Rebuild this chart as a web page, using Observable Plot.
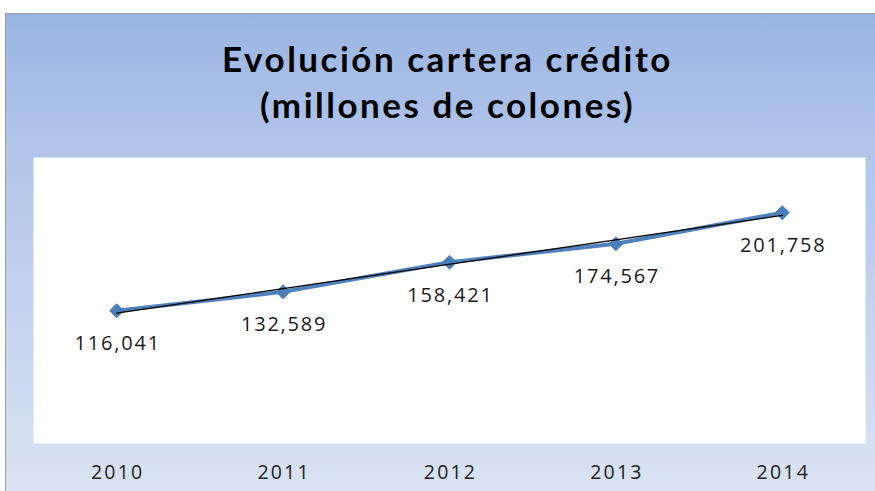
<!DOCTYPE html>
<html>
<head>
<meta charset="utf-8">
<script src="https://cdn.jsdelivr.net/npm/d3@7"></script>
<script src="https://cdn.jsdelivr.net/npm/@observablehq/plot@0.6"></script>
<style>
  html, body { margin: 0; padding: 0; background: #ffffff; width: 875px; height: 491px; overflow: hidden; }
  #wrap {
    position: absolute; left: 5px; top: 13px; width: 869px; height: 477px;
    border-top: 1.5px solid #9c9c9c; border-left: 1.5px solid #9c9c9c;
    background: linear-gradient(to bottom, #9ab4e2 0%, #b2c6eb 30%, #dae3f3 100%);
  }
  #title {
    height: 143px; box-sizing: border-box; padding-top: 21px; padding-left: 14px;
    text-align: center; font-family: Lato, "Open Sans", sans-serif; font-weight: 700;
    font-size: 35px; line-height: 46px; color: #000; letter-spacing: 2.5px;
  }
  #chart svg { display: block; }
  #chart g[aria-label="text"] text { letter-spacing: 1.8px; }
  #chart g[aria-label="x-axis tick label"] text { letter-spacing: 2.2px; }
</style>
</head>
<body>
<div id="wrap">
  <div id="title">Evolución cartera crédito<br>(millones de colones)</div>
  <div id="chart"></div>
</div>
<script>
const years = [2010, 2011, 2012, 2013, 2014];
const values = [116041, 132589, 158421, 174567, 201758];
const valueLabels = ["116,041", "132,589", "158,421", "174,567", "201,758"];

const data = years.map((y, i) => ({year: y, value: values[i], label: valueLabels[i]}));

const chart = Plot.plot({
  width: 869,
  height: 334,
  marginLeft: 27,
  marginRight: 10,
  marginTop: 0,
  marginBottom: 48,
  style: {background: "transparent", fontFamily: "'Open Sans', sans-serif", overflow: "visible"},
  x: {type: "linear", domain: [2009.5, 2014.5], axis: null},
  y: {domain: [0, 250000], axis: null},
  marks: [
    Plot.frame({fill: "white", stroke: "none"}),
    Plot.axisX({
      ticks: years, tickFormat: d => String(d), tickSize: 0, tickPadding: 22, label: null,
      fontSize: 19.5, fill: "#222", dx: 1
    }),
    Plot.line(data, {x: "year", y: "value", stroke: "#4f81bd", strokeWidth: 4}),
    Plot.dot(data, {x: "year", y: "value", symbol: "diamond2", r: 6.3, fill: "#4a7ebb", stroke: "#4a7ebb", strokeWidth: 1}),
    Plot.linearRegressionY(data, {x: "year", y: "value", stroke: "#000", strokeWidth: 1.3, ci: 0}),
    Plot.text(data, {x: "year", y: "value", text: "label", dy: 33, dx: 1, fontSize: 20, fill: "#1a1a1a"})
  ]
});
document.getElementById("chart").appendChild(chart);
</script>
</body>
</html>
